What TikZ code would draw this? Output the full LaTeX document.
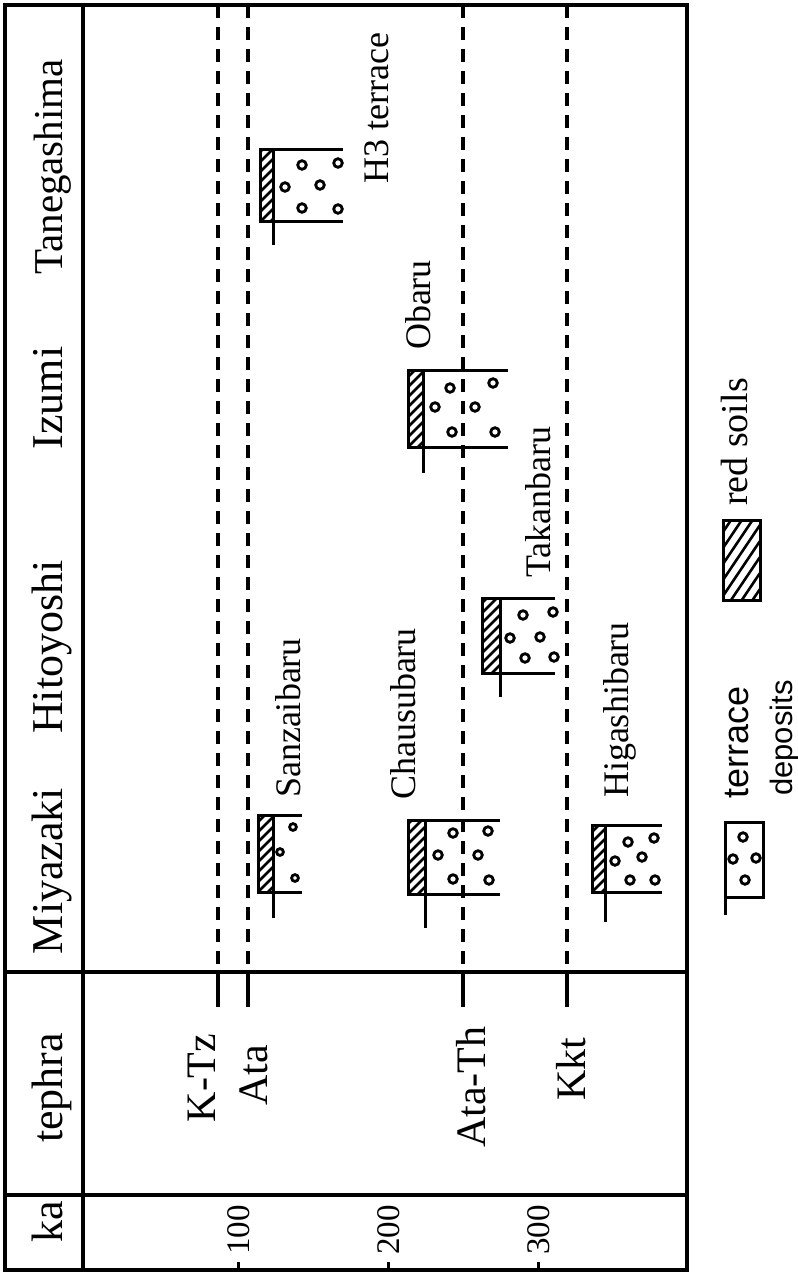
\documentclass[tikz,border=0pt]{standalone}
\usepackage{fontspec}
\setmainfont{Liberation Serif}
\newfontfamily\legendsans{Liberation Sans}
\usepackage{tikz}

\begin{document}
\begin{tikzpicture}[x=1pt, y=-1pt,
		frame/.style={line width=3.5pt},
		tephraline/.style={line width=3.5pt, dash pattern=on 13pt off 9pt},
		unitline/.style={line width=3pt},
		hatchline/.style={line width=2.6pt},
		pebble/.style={line width=2.8pt},
		head/.style={rotate=90, anchor=base, font=\fontsize{44}{48}\selectfont},
		sitelab/.style={rotate=90, anchor=base, font=\fontsize{36}{40}\selectfont},
		tephralab/.style={rotate=90, anchor=base, font=\fontsize{42}{46}\selectfont},
		agelab/.style={rotate=90, anchor=base, font=\fontsize{33}{36}\selectfont}]
		\useasboundingbox (0,0) rectangle (797,1273);
		% frame and columns
		\draw[frame] (5,5) rectangle (687,1270);
		\draw[frame] (83,5) -- (83,1270);
		\draw[frame] (5,972) -- (687,972);
		\draw[frame] (5,1195) -- (687,1195);
		% headers
		\node[head] (ka) at (62,1222) {ka};
		\node[head] (tephra) at (62,1088) {tephra};
		\node[head] (miyazaki) at (62,871) {Miyazaki};
		\node[head] (hitoyoshi) at (62,647) {Hitoyoshi};
		\node[head] (izumi) at (62,398) {Izumi};
		\node[head, font=\fontsize{41}{45}\selectfont] (tanegashima) at (62,167) {Tanegashima};
		% age scale
		\foreach \x/\a in {238/100, 388/200, 538/300} {
			\draw[unitline] (\x,1270) -- (\x,1262);
			\node[agelab] (age\a) at (\x+11,1230) {\a};
		}
		% tephra horizons
		\foreach \x/\nm in {218/ktz, 248/ata, 463/atath, 567/kkt} {
			\coordinate (\nm-a) at (\x,5);
			\coordinate (\nm-b) at (\x,972);
			\coordinate (\nm-c) at (\x,1007);
			\draw[tephraline] (\nm-a) -- (\nm-b);
			\draw[frame] (\nm-b) -- (\nm-c);
		}
		\node[tephralab] (ktz) at (215,1078) {K-Tz};
		\node[tephralab] (ata) at (267,1075) {Ata};
		\node[tephralab] (atath) at (485,1087) {Ata-Th};
		\node[tephralab] (kkt) at (585,1069) {Kkt};
		% terrace deposits with red soils on top
		\foreach \xa/\xb/\xc/\ya/\yb/\yt in {260/273/343/150/222/245, 408/423/508/370/447/473,
				482/500/555/598/673/697, 258/273/302/815/892/918,
				408/425/500/820/894/928, 592/605/662/825/892/922} {
			\begin{scope}
				\clip (\xa,\ya) rectangle (\xb,\yb);
				\foreach \c in {-30,-20,...,130}
					\draw[hatchline] (\xa,{\yb-\c}) -- (\xb,{\yb-\c-(\xb-\xa)});
			\end{scope}
			\draw[unitline] (\xa,\ya) rectangle (\xb,\yb);
			\draw[unitline] (\xa,\ya) -- (\xc,\ya);
			\draw[unitline] (\xa,\yb) -- (\xc,\yb);
			\draw[unitline] (\xb,\ya) -- (\xb,\yt);
		}
		\foreach \px/\py in {302/165, 338/163, 285/187, 320/185, 302/208, 338/209,
				450/388, 493/383, 435/407, 475/407, 452/432, 495/432,
				523/615, 553/612, 510/638, 540/637, 525/658, 554/657,
				453/833, 488/831, 438/855, 478/855, 453/879, 489/880,
				628/842, 654/838, 615/861, 642/857, 630/880, 655/880}
			\draw[pebble] (\px,\py) circle[radius=4.3pt];
		\foreach \px/\py in {293/827, 280/852, 295/878}
			\draw[pebble] (\px,\py) circle[radius=3.4pt];
		\node[sitelab] (h3) at (388,108) {H3 terrace};
		\node[sitelab] (obaru) at (430,305) {Obaru};
		\node[sitelab] (takanbaru) at (550,502) {Takanbaru};
		\node[sitelab] (sanzaibaru) at (300,718) {Sanzaibaru};
		\node[sitelab] (chausubaru) at (415,714) {Chausubaru};
		\node[sitelab] (higashibaru) at (628,710) {Higashibaru};
		% legend
		\draw[unitline] (725,822) rectangle (763,897);
		\draw[unitline] (725,897) -- (725,915);
		\foreach \px/\py in {743/837, 733/859, 756/858, 745/880}
			\draw[pebble] (\px,\py) circle[radius=4.3pt];
		\node[rotate=90, anchor=base, font=\legendsans\fontsize{36}{40}\selectfont] (leg-terrace) at (748,742) {terrace};
		\node[rotate=90, anchor=base, font=\legendsans\fontsize{31}{34}\selectfont] (leg-deposits) at (792,738) {deposits};
		\begin{scope}
			\clip (723,520) rectangle (760,600);
			\foreach \c in {-60,-44,...,140}
				\draw[hatchline] (723,{600-\c}) -- (760,{600-\c-55});
		\end{scope}
		\draw[unitline] (723,520) rectangle (760,600);
		\node[sitelab, font=\fontsize{38}{42}\selectfont] (leg-red) at (747,442) {red soils};
\end{tikzpicture}
\end{document}
